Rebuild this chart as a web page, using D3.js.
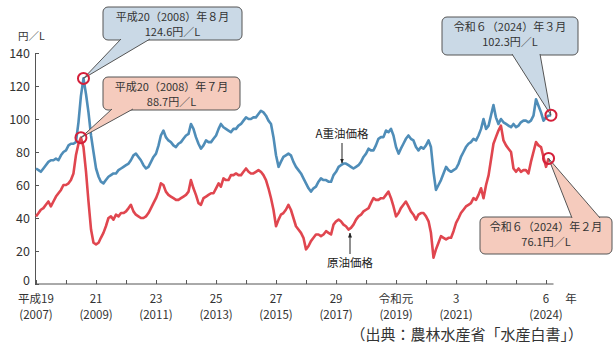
<!DOCTYPE html>
<html><head><meta charset="utf-8">
<script src="https://cdn.jsdelivr.net/npm/d3@7/dist/d3.min.js"></script>
<style>
body{margin:0;background:#fff;}
svg text{font-family:"Noto Sans CJK JP","Noto Sans",sans-serif;}
</style></head>
<body><svg id="c" width="615" height="346"></svg>
<script>
// ---- data (monthly, starting Jan 2007) ----
const startYear = 2007;
const heavyOilA = [70,69,68,70,72,74,75,75,76,75,78,80,
81,84,85,85,86,98,114,124.6,115,104,90,80,
70,65,62,61,63,65,66,67,67,69,70,71,
72,73,75,78,79,77,75,72,70,71,74,77,
79,84,90,93,89,87,86,84,83,85,86,88,
90,91,97,94,89,85,82,84,87,86,86,88,
90,94,97,95,94,93,92,94,94,96,97,99,
101,100,100,101,101,103,105,104,102,99,97,89,
78,71,74,77,78,79,78,74,71,69,67,64,
61,58,56,58,59,62,64,63,63,62,62,66,
68,71,72,73,73,72,71,70,71,72,74,77,
79,82,81,81,84,88,89,89,93,92,94,90,
83,79,82,85,88,90,88,87,83,81,83,82,
84,87,83,68,57,60,63,67,71,69,68,69,
70,73,77,80,83,85,86,88,87,90,94,100,
94,96,102,108.5,101,97,100,98,97,96,95,97,
95,96,98,99,99,98,99,102,112,108,104,99,
101,102,102.3];
const crudeOil = [41,43,45,46,48,50,47,50,53,55,57,60,
60,61,63,67,78,85,88.7,83,68,50,33,25,
24,25,28,31,35,40,41,39,42,41,43,43,
44,46,48,44,42,41,40,40,41,43,46,49,
52,56,61,60,56,54,53,52,51,51,52,53,
54,56,63,58,54,49,48,52,53,54,55,55,
58,61,59,64,63,63,66,66,67,66,66,68,
70,68,67,67,68,69,68,66,63,58,52,45,
35,39,42,43,45,48,45,40,35,33,31,28,
21,23,26,28,30,30,29,30,32,31,30,36,
38,39,38,36,35,33,34,36,39,41,42,44,
45,46,49,52,51,51,52,52,54,56,52,47,
41,43,46,48,50,47,44,42,39,42,43,43,
41,38,31,16,21,25,29,28,27,28,28,32,
37,40,43,45,47,48,49,52,51,54,58,52,
60,66,75,85,89,93,96,87,84,82,80,70,
68,70,68,69,69,67,74,80,86,84,83,77,
71,76.1];
const yTicks = [0,20,40,60,80,100,120,140];
const xLabelYears = [2007,2009,2011,2013,2015,2017,2019,2021,2024];
const xLabelEra = ["平成19","21","23","25","27","29","令和元","3","6"];
const xLabelWestern = ["(2007)","(2009)","(2011)","(2013)","(2015)","(2017)","(2019)","(2021)","(2024)"];
const callouts = [
  {series:"heavy", month:19, line1:"平成20（2008）年８月", line2:"124.6円／L"},
  {series:"crude", month:18, line1:"平成20（2008）年７月", line2:"88.7円／L"},
  {series:"heavy", month:206, line1:"令和６（2024）年３月", line2:"102.3円／L"},
  {series:"crude", month:205, line1:"令和６（2024）年２月", line2:"76.1円／L"}
];

const toRows = arr => arr.map((v,i)=>({date:new Date(startYear, i, 1), v}));
const heavyRows = toRows(heavyOilA), crudeRows = toRows(crudeOil);

const svg = d3.select("#c");
const x = d3.scaleTime().domain([new Date(2007,0,1), new Date(2024,3,1)]).range([36, 553.5]);
const y = d3.scaleLinear().domain([0,140]).range([284,53]);
const axisCol = "#555", txtCol = "#333";

// y axis
const gy = svg.append("g").attr("transform","translate(35,0)")
  .call(d3.axisLeft(y).tickValues(yTicks).tickSizeInner(-4).tickSizeOuter(0).tickPadding(5));
gy.select(".domain").attr("stroke",axisCol);
gy.selectAll(".tick line").attr("stroke",axisCol);
gy.selectAll(".tick text").attr("fill",txtCol).attr("font-size",12.5).attr("font-family","Noto Sans, sans-serif")
  .attr("dy", d => d===0 ? "0.05em" : "0.32em");
svg.append("text").attr("x",18).attr("y",40).attr("font-size",10.5).attr("fill",txtCol).text("円／L");

// x axis
const yearTicks = d3.range(2007,2025).map(yy=>new Date(yy,0,1));
const gx = svg.append("g").attr("transform","translate(0,284)")
  .call(d3.axisBottom(x).tickValues(yearTicks).tickFormat("").tickSizeInner(-4).tickSizeOuter(0));
gx.select(".domain").attr("stroke",axisCol).attr("d","M35,0H553.5");
gx.selectAll(".tick line").attr("stroke",axisCol);
xLabelYears.forEach((yy,i)=>{
  const px = x(new Date(yy,0,1));
  svg.append("text").attr("x",px).attr("y",303).attr("text-anchor","middle")
    .attr("font-size",11.5).attr("fill",txtCol).text(xLabelEra[i]);
  svg.append("text").attr("x",px).attr("y",319).attr("text-anchor","middle")
    .attr("font-size",11.5).attr("fill",txtCol).text(xLabelWestern[i]);
});
svg.append("text").attr("x",571).attr("y",303).attr("text-anchor","middle")
  .attr("font-size",11.5).attr("fill",txtCol).text("年");

// lines
const line = d3.line().x(d=>x(d.date)).y(d=>y(d.v));
svg.append("path").datum(heavyRows).attr("d",line).attr("fill","none")
  .attr("stroke","#4f8db8").attr("stroke-width",2.6).attr("stroke-linejoin","round");
svg.append("path").datum(crudeRows).attr("d",line).attr("fill","none")
  .attr("stroke","#e0464f").attr("stroke-width",2.6).attr("stroke-linejoin","round");

// series labels with arrows
svg.append("defs").append("marker").attr("id","ah").attr("viewBox","0 0 10 10")
  .attr("refX",9).attr("refY",5).attr("markerWidth",5).attr("markerHeight",5).attr("orient","auto")
  .append("path").attr("d","M0,1L10,5L0,9Z").attr("fill","#222");
svg.append("text").attr("x",342).attr("y",138).attr("text-anchor","middle")
  .attr("font-size",11.5).attr("fill","#222").text("A重油価格");
svg.append("line").attr("x1",342).attr("y1",143).attr("x2",342).attr("y2",163)
  .attr("stroke","#222").attr("stroke-width",1).attr("marker-end","url(#ah)");
svg.append("text").attr("x",350).attr("y",267).attr("text-anchor","middle")
  .attr("font-size",11.5).attr("fill","#222").text("原油価格");
svg.append("line").attr("x1",350).attr("y1",254).attr("x2",350).attr("y2",233)
  .attr("stroke","#222").attr("stroke-width",1).attr("marker-end","url(#ah)");

// callouts
const boxes = [
  {x0:103,y0:7,x1:242,y1:40, base:[[121,39],[150,39]], fill:"#cad9e6"},
  {x0:103,y0:77,x1:240,y1:110, base:[[112,109],[133,109]], fill:"#f5cbbd"},
  {x0:442,y0:17,x1:578,y1:55, base:[[512,54],[540,54]], fill:"#cad9e6"},
  {x0:480,y0:217,x1:612,y1:254, base:[[572,218],[600,218]], fill:"#f5cbbd"}
];
callouts.forEach((c,i)=>{
  const b = boxes[i];
  const rows = c.series==="heavy" ? heavyRows : crudeRows;
  const p = rows[c.month];
  const tx = x(p.date), ty = y(p.v);
  svg.append("rect").attr("x",b.x0).attr("y",b.y0).attr("width",b.x1-b.x0).attr("height",b.y1-b.y0)
    .attr("rx",5).attr("fill",b.fill).attr("stroke","#555").attr("stroke-width",1);
  svg.append("path").attr("d",`M${b.base[0][0]},${b.base[0][1]}L${tx},${ty}L${b.base[1][0]},${b.base[1][1]}Z`)
    .attr("fill",b.fill);
  svg.append("path").attr("d",`M${b.base[0][0]},${b.base[0][1]}L${tx},${ty}L${b.base[1][0]},${b.base[1][1]}`)
    .attr("fill","none").attr("stroke","#555").attr("stroke-width",1);
  const cx = (b.x0+b.x1)/2;
  svg.append("text").attr("x",cx).attr("y",b.y0+14).attr("text-anchor","middle")
    .attr("font-size",11).attr("fill",txtCol).text(c.line1);
  svg.append("text").attr("x",cx).attr("y",b.y0+29).attr("text-anchor","middle")
    .attr("font-size",11).attr("fill",txtCol).text(c.line2);
  svg.append("circle").attr("cx",tx).attr("cy",ty).attr("r",5.5)
    .attr("fill","none").attr("stroke","#d4203a").attr("stroke-width",2);
});

// source
svg.append("text").attr("x",583).attr("y",340).attr("text-anchor","end")
  .attr("font-size",15).attr("fill",txtCol).text("（出典：農林水産省「水産白書」）");
</script></body></html>
